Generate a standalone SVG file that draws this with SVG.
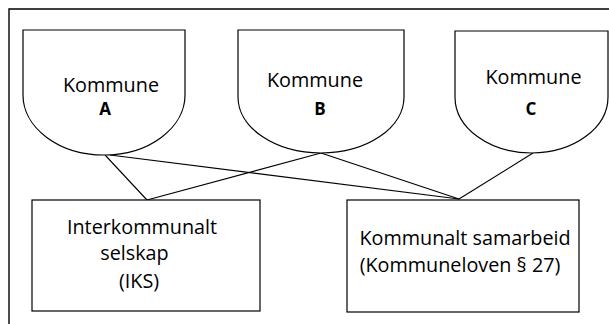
<svg xmlns="http://www.w3.org/2000/svg" width="609" height="324" viewBox="0 0 609 324">
<style>
.shape{fill:#fff;stroke:#000;stroke-width:1.2}
.conn line{stroke:#000;stroke-width:1.1}
.t{font-family:"Open Sans","Noto Sans",sans-serif;font-size:19.8px;fill:#000}
.b{font-family:"Open Sans","Noto Sans",sans-serif;font-size:17px;font-weight:bold;fill:#000}
</style>
<rect width="609" height="324" fill="#fff"/>
<path d="M9,324 V9 H609" fill="none" stroke="#000" stroke-width="1.4"/>
<g id="conn" class="conn">
<line x1="105" y1="155" x2="147" y2="200"/>
<line x1="110" y1="155" x2="459" y2="199"/>
<line x1="321" y1="153" x2="147" y2="200"/>
<line x1="321" y1="153" x2="459" y2="199"/>
<line x1="533" y1="153" x2="459" y2="199"/>
</g>
<g id="kommuneA">
<path class="shape" d="M23,30 H185 V95 A81,60 0 0 1 23,95 Z"/>
<text class="t" x="111" y="92" text-anchor="middle">Kommune</text>
<text class="b" x="105" y="115" text-anchor="middle">A</text>
</g>
<g id="kommuneB">
<path class="shape" d="M238,30 H404 V97 A83,56 0 0 1 238,97 Z"/>
<text class="t" x="315" y="87" text-anchor="middle">Kommune</text>
<text class="b" x="320" y="115" text-anchor="middle">B</text>
</g>
<g id="kommuneC">
<path class="shape" d="M455,31 H608 V97 A76.5,56 0 0 1 455,97 Z"/>
<text class="t" x="533.5" y="84" text-anchor="middle">Kommune</text>
<text class="b" x="531" y="115" text-anchor="middle">C</text>
</g>
<g id="iks">
<rect class="shape" x="32" y="200" width="228" height="111"/>
<text class="t" x="142" y="234" text-anchor="middle">Interkommunalt</text>
<text class="t" x="134.5" y="260" text-anchor="middle">selskap</text>
<text class="t" x="139" y="288" text-anchor="middle">(IKS)</text>
</g>
<g id="samarbeid">
<rect class="shape" x="347" y="200" width="232" height="112"/>
<text class="t" x="465" y="245" text-anchor="middle">Kommunalt samarbeid</text>
<text class="t" x="460" y="272" text-anchor="middle">(Kommuneloven § 27)</text>
</g>
</svg>
